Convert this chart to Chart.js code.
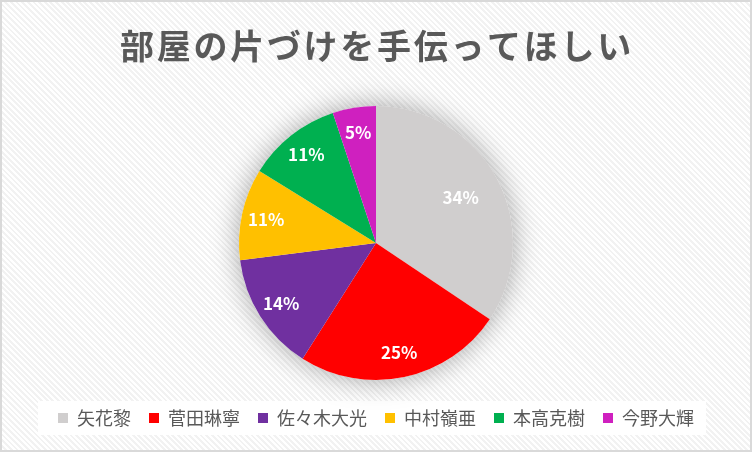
<!DOCTYPE html>
<html>
<head>
<meta charset="utf-8">
<script src="https://cdn.jsdelivr.net/npm/chart.js@4.4.1/dist/chart.umd.min.js"></script>
<style>
  html, body { margin: 0; padding: 0; }
  #frame {
    position: absolute; left: 0; top: 0;
    width: 752px; height: 452px;
    box-sizing: border-box;
    border: 2px solid #d9d9d9;
    background: repeating-linear-gradient(45deg, #ffffff 0px, #ffffff 2px, #f2f2f2 2px, #f2f2f2 4px);
  }
  #frame canvas { display: block; }
</style>
</head>
<body>
<div id="frame"><canvas id="pieChart" width="748" height="448"></canvas></div>
<script>
// data
const chartTitle = '部屋の片づけを手伝ってほしい';
const categories = ['矢花黎', '菅田琳寧', '佐々木大光', '中村嶺亜', '本高克樹', '今野大輝'];
const shares = [34.4, 24.6, 14.0, 10.8, 11.1, 5.1];
const sliceColors = ['#d0cece', '#ff0000', '#7030a0', '#ffc000', '#00b050', '#cf20bf'];

const FONT = '"Noto Sans CJK JP", "Noto Sans", sans-serif';
const total = shares.reduce((a, b) => a + b, 0);

// title with letter spacing, drawn on the canvas
const titlePlugin = {
    id: 'spacedTitle',
    beforeDraw(chart) {
        const ctx = chart.ctx;
        ctx.save();
        ctx.font = 'bold 34px ' + FONT;
        ctx.fillStyle = '#595959';
        ctx.textAlign = 'center';
        ctx.textBaseline = 'middle';
        ctx.letterSpacing = '2.7px';
        ctx.fillText(chartTitle, chart.width / 2 + 1, 44);
        ctx.restore();
    }
};

// white panel behind the legend
const legendPanel = {
    id: 'legendPanel',
    beforeDraw(chart) {
        const boxes = chart.legend.legendHitBoxes;
        if (!boxes || !boxes.length) return;
        const left = Math.min(...boxes.map(b => b.left)) - 20;
        const right = Math.max(...boxes.map(b => b.left + b.width)) + 12;
        const top = boxes[0].top - 8;
        const ctx = chart.ctx;
        ctx.save();
        ctx.fillStyle = '#ffffff';
        ctx.fillRect(left, top, right - left, boxes[0].height + 16);
        ctx.restore();
    }
};

// soft glow round the pie
const pieGlow = {
    id: 'pieGlow',
    beforeDatasetsDraw(chart) {
        const arc = chart.getDatasetMeta(0).data[0];
        if (!arc) return;
        const ctx = chart.ctx;
        ctx.save();
        ctx.shadowColor = 'rgba(0,0,0,0.35)';
        ctx.shadowBlur = 28;
        ctx.fillStyle = '#ffffff';
        ctx.beginPath();
        ctx.arc(arc.x, arc.y, arc.outerRadius, 0, Math.PI * 2);
        ctx.fill();
        ctx.restore();
    }
};

// percentage labels inside the slices
const sliceLabels = {
    id: 'sliceLabels',
    afterDatasetsDraw(chart) {
        const ctx = chart.ctx;
        ctx.save();
        ctx.font = 'bold 17px ' + FONT;
        ctx.fillStyle = '#ffffff';
        ctx.textAlign = 'center';
        ctx.textBaseline = 'middle';
        chart.getDatasetMeta(0).data.forEach((arc, i) => {
            const p = arc.getProps(['x', 'y', 'startAngle', 'endAngle', 'outerRadius'], true);
            const mid = (p.startAngle + p.endAngle) / 2;
            // the big slice keeps its label nearer the middle
            const r = p.outerRadius * (shares[i] / total > 0.3 ? 0.7 : 0.82);
            const text = Math.round(shares[i] / total * 100) + '%';
            ctx.fillText(text, p.x + Math.cos(mid) * r, p.y + Math.sin(mid) * r);
        });
        ctx.restore();
    }
};

const ctx = document.getElementById('pieChart').getContext('2d');

const pieChart = new Chart(ctx, {
    type: 'pie',
    data: {
        labels: categories,
        datasets: [{
            data: shares,
            backgroundColor: sliceColors,
            borderWidth: 0,
            radius: 137
        }]
    },
    options: {
        responsive: false,
        animation: false,
        layout: {
            padding: { top: 93, bottom: 13, left: 0, right: 0 }
        },
        plugins: {
            title: { display: false },
            tooltip: { enabled: false },
            legend: {
                position: 'bottom',
                labels: {
                    boxWidth: 10,
                    boxHeight: 10,
                    padding: 18,
                    color: '#595959',
                    font: { size: 18, family: FONT }
                }
            }
        }
    },
    plugins: [titlePlugin, legendPanel, pieGlow, sliceLabels]
});
</script>
</body>
</html>
